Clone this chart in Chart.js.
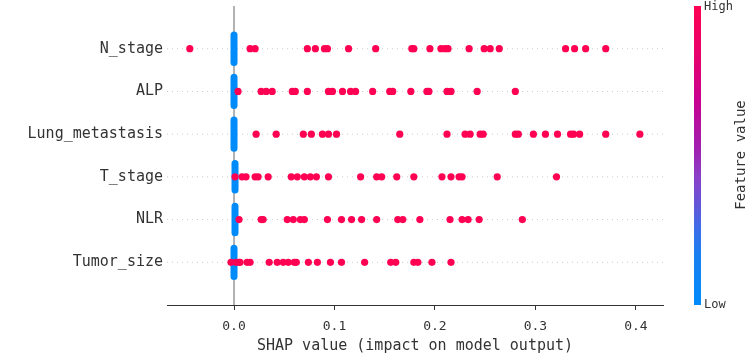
<!DOCTYPE html>
<html>
<head>
<meta charset="utf-8">
<script src="https://cdn.jsdelivr.net/npm/chart.js@4"></script>
<style>
html, body { margin: 0; padding: 0; background: #fff; }
#wrap { width: 749px; height: 355px; }
</style>
</head>
<body>
<div id="wrap"><canvas id="shapChart"></canvas></div>
<script>
const features = ['N_stage', 'ALP', 'Lung_metastasis', 'T_stage', 'NLR', 'Tumor_size'];

// SHAP values of the high feature-value samples (red dots)
const nStageHigh = [-0.044, 0.016, 0.021, 0.073, 0.081, 0.090, 0.093, 0.114, 0.141, 0.177, 0.179,
    0.195, 0.206, 0.210, 0.213, 0.234, 0.249, 0.255, 0.264, 0.330, 0.339, 0.350, 0.370];
const alpHigh = [0.004, 0.027, 0.032, 0.038, 0.058, 0.061, 0.073, 0.094, 0.098, 0.108, 0.116, 0.121,
    0.138, 0.155, 0.158, 0.176, 0.192, 0.194, 0.212, 0.216, 0.242, 0.280];
const lungHigh = [0.022, 0.042, 0.069, 0.077, 0.088, 0.094, 0.102, 0.165, 0.212, 0.230, 0.235, 0.245,
    0.248, 0.280, 0.283, 0.298, 0.310, 0.322, 0.335, 0.338, 0.344, 0.370, 0.404];
const tStageHigh = [0.001, 0.008, 0.012, 0.021, 0.024, 0.034, 0.057, 0.063, 0.070, 0.076, 0.082, 0.094,
    0.126, 0.142, 0.147, 0.162, 0.179, 0.207, 0.216, 0.224, 0.227, 0.262, 0.321];
const nlrHigh = [0.005, 0.027, 0.029, 0.053, 0.059, 0.066, 0.070, 0.093, 0.107, 0.117, 0.127, 0.142,
    0.163, 0.168, 0.185, 0.215, 0.227, 0.233, 0.244, 0.287];
const tumorHigh = [-0.003, 0.002, 0.005, 0.006, 0.013, 0.016, 0.035, 0.043, 0.049, 0.054, 0.060, 0.062,
    0.074, 0.083, 0.096, 0.107, 0.130, 0.156, 0.161, 0.179, 0.183, 0.197, 0.216];
const highValues = [nStageHigh, alpHigh, lungHigh, tStageHigh, nlrHigh, tumorHigh];

// low feature-value samples pile up at 0 (blue swarm), half height in row units
const lowValue = [0.0, 0.0, 0.0, 0.001, 0.001, 0.0];
const lowHalfSpread = [0.32, 0.33, 0.33, 0.31, 0.31, 0.33];

const xTicks = [0.0, 0.1, 0.2, 0.3, 0.4];
const xMin = -0.0667, xMax = 0.427;

const monoFont = '"DejaVu Sans Mono", monospace';
const red = '#ff0052', blue = '#008bfb';

const datasets = [];

datasets.push({
    label: 'high',
    data: highValues.flatMap((vals, i) => vals.map(v => ({ x: v, y: i }))),
    pointRadius: 3.6,
    pointBackgroundColor: red,
    pointBorderWidth: 0,
    showLine: false,
    order: 0
});

features.forEach((f, i) => {
    datasets.push({
        label: f + ' low',
        data: [{ x: lowValue[i], y: i - lowHalfSpread[i] }, { x: lowValue[i], y: i + lowHalfSpread[i] }],
        showLine: true,
        borderColor: blue,
        borderWidth: 7,
        borderCapStyle: 'round',
        pointRadius: 0,
        order: 1
    });
});

datasets.push({
    label: 'zero',
    data: [{ x: 0, y: -1 }, { x: 0, y: 6 }],
    showLine: true,
    borderColor: '#999999',
    borderWidth: 1.5,
    pointRadius: 0,
    order: 2
});

features.forEach((f, i) => {
    datasets.push({
        label: f + ' guide',
        data: [{ x: xMin, y: i }, { x: xMax, y: i }],
        showLine: true,
        borderColor: '#cccccc',
        borderWidth: 1,
        borderDash: [1, 4],
        pointRadius: 0,
        order: 3
    });
});

const colorBar = {
    id: 'colorBar',
    afterDraw(chart) {
        const ctx = chart.ctx;
        const x = 694, w = 7, top = 6, bottom = 305;
        const g = ctx.createLinearGradient(0, bottom, 0, top);
        g.addColorStop(0, '#008bfb');
        g.addColorStop(0.17, '#1a7ff0');
        g.addColorStop(0.25, '#3a6ee8');
        g.addColorStop(0.35, '#6a52d6');
        g.addColorStop(0.43, '#8a40c8');
        g.addColorStop(0.52, '#a020b0');
        g.addColorStop(0.69, '#c8008f');
        g.addColorStop(0.82, '#e4006f');
        g.addColorStop(1, '#ff0052');
        ctx.save();
        ctx.fillStyle = g;
        ctx.fillRect(x, top, w, bottom - top);
        ctx.fillStyle = '#333';
        ctx.font = '12px ' + monoFont;
        ctx.textBaseline = 'middle';
        ctx.textAlign = 'left';
        ctx.fillText('High', 704, 7);
        ctx.fillText('Low', 704, 305);
        ctx.translate(741, 155);
        ctx.rotate(-Math.PI / 2);
        ctx.textAlign = 'center';
        ctx.font = '14px ' + monoFont;
        ctx.fillText('Feature value', 0, 0);
        ctx.restore();
    }
};

new Chart(document.getElementById('shapChart'), {
    type: 'scatter',
    data: { datasets: datasets },
    options: {
        responsive: true,
        maintainAspectRatio: false,
        animation: false,
        layout: { padding: { top: 6, right: 86, left: 0, bottom: 0 } },
        plugins: { legend: { display: false }, tooltip: { enabled: false } },
        scales: {
            x: {
                type: 'linear',
                min: xMin,
                max: xMax,
                afterBuildTicks: scale => { scale.ticks = xTicks.map(v => ({ value: v })); },
                afterFit: scale => { scale.height = 50; },
                ticks: {
                    callback: v => v.toFixed(1),
                    font: { family: monoFont, size: 13 },
                    color: '#333',
                    padding: 9
                },
                grid: { drawOnChartArea: false, tickLength: 5, tickColor: '#333', tickWidth: 1 },
                border: { color: '#333', width: 1 },
                title: {
                    display: true,
                    text: 'SHAP value (impact on model output)',
                    font: { family: monoFont, size: 15 },
                    color: '#333',
                    padding: { top: 0, bottom: 0 }
                }
            },
            y: {
                type: 'linear',
                min: -1,
                max: 6,
                reverse: true,
                afterBuildTicks: scale => { scale.ticks = features.map((f, i) => ({ value: i })); },
                afterFit: scale => {
                    scale.width = 167;
                    scale.paddingTop = 0;
                    scale.paddingBottom = 0;
                },
                ticks: {
                    callback: v => features[v],
                    font: { family: monoFont, size: 15 },
                    color: '#333',
                    padding: 4
                },
                grid: { display: false, drawTicks: false },
                border: { display: false }
            }
        }
    },
    plugins: [colorBar]
});
</script>
</body>
</html>
